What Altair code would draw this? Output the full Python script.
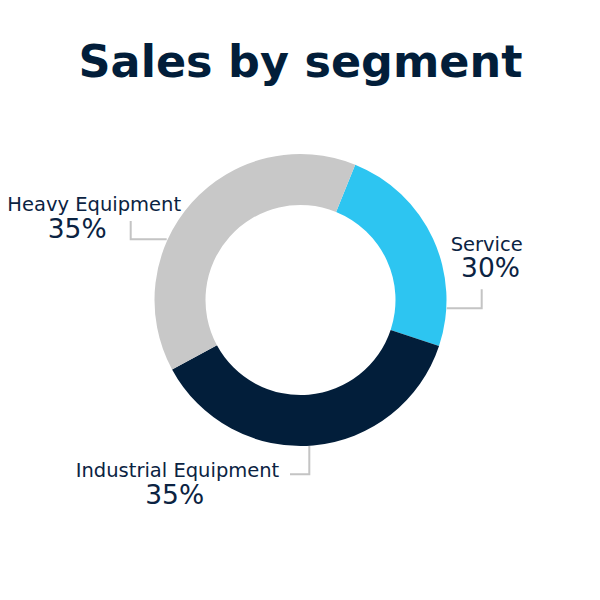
import altair as alt
import pandas as pd
import math

# data
segments = ["Service", "Industrial Equipment", "Heavy Equipment"]
slice_values = [24, 37, 39]          # arc sizes as drawn
label_pcts = ["30%", "35%", "35%"]    # label texts as printed
colors = ["#2dc5f1", "#021e3a", "#c8c8c8"]

# layout (chart coordinates, page offset 8px removed)
CX, CY = 292.5, 292
R_OUT, R_IN = 146, 95
START = math.radians(22)
name_pos = [(478.7, 242.7), (169.5, 468.7), (86.2, 202.7)]
pct_pos = [(482.5, 268.9), (166.7, 496.2), (69.2, 229.5)]
leaders = [
    [(438.7, 300.3), (473.7, 300.3), (473.7, 281.3)],
    [(282, 466.3), (301.3, 466.3), (301.3, 438)],
    [(158.7, 231.3), (122.7, 231.3), (122.7, 213)],
]

W = H = 584
arc_df = pd.DataFrame({"segment": segments, "value": slice_values, "order": [0, 1, 2]})
lab_df = pd.DataFrame({
    "segment": segments,
    "pct": label_pcts,
    "nx": [p[0] for p in name_pos], "ny": [p[1] for p in name_pos],
    "px": [p[0] for p in pct_pos], "py": [p[1] for p in pct_pos],
})
lead_rows = []
for i, pts in enumerate(leaders):
    for j, (x, y) in enumerate(pts):
        lead_rows.append({"seg": segments[i], "k": j, "x": x, "y": y})
lead_df = pd.DataFrame(lead_rows)

xs = alt.Scale(domain=[0, W], range=[0, W])
ys = alt.Scale(domain=[0, H], range=[0, H])

arcs = alt.Chart(arc_df).mark_arc(outerRadius=R_OUT, innerRadius=R_IN, stroke=None).encode(
    theta=alt.Theta("value:Q", stack=True, scale=alt.Scale(range=[START, START + 2 * math.pi])),
    order=alt.Order("order:Q"),
    color=alt.Color("segment:N", scale=alt.Scale(domain=segments, range=colors), legend=None),
    x=alt.value(CX), y=alt.value(CY),
)

lines = alt.Chart(lead_df).mark_line(color="#c4c4c4", strokeWidth=2).encode(
    x=alt.X("x:Q", scale=xs, axis=None),
    y=alt.Y("y:Q", scale=ys, axis=None),
    detail="seg:N",
    order="k:Q",
)

names = alt.Chart(lab_df).mark_text(font="DejaVu Sans", fontSize=19.5, color="#0b2342", align="center", baseline="alphabetic").encode(
    x=alt.X("nx:Q", scale=xs, axis=None),
    y=alt.Y("ny:Q", scale=ys, axis=None),
    text="segment:N",
)
pcts = alt.Chart(lab_df).mark_text(font="DejaVu Sans", fontSize=26.5, color="#0b2342", align="center", baseline="alphabetic").encode(
    x=alt.X("px:Q", scale=xs, axis=None),
    y=alt.Y("py:Q", scale=ys, axis=None),
    text="pct:N",
)
title = alt.Chart(pd.DataFrame({"t": ["Sales by segment"]})).mark_text(
    font="DejaVu Sans", fontSize=44.5, fontWeight="bold", color="#021e3a", align="center", baseline="alphabetic"
).encode(x=alt.value(292.5), y=alt.value(69), text="t:N")

chart = alt.layer(arcs, lines, names, pcts, title).properties(
    width=W, height=H, padding=0, autosize="none"
).configure_view(stroke=None)

chart.save("out.html", embed_options={"renderer": "svg", "actions": False})
